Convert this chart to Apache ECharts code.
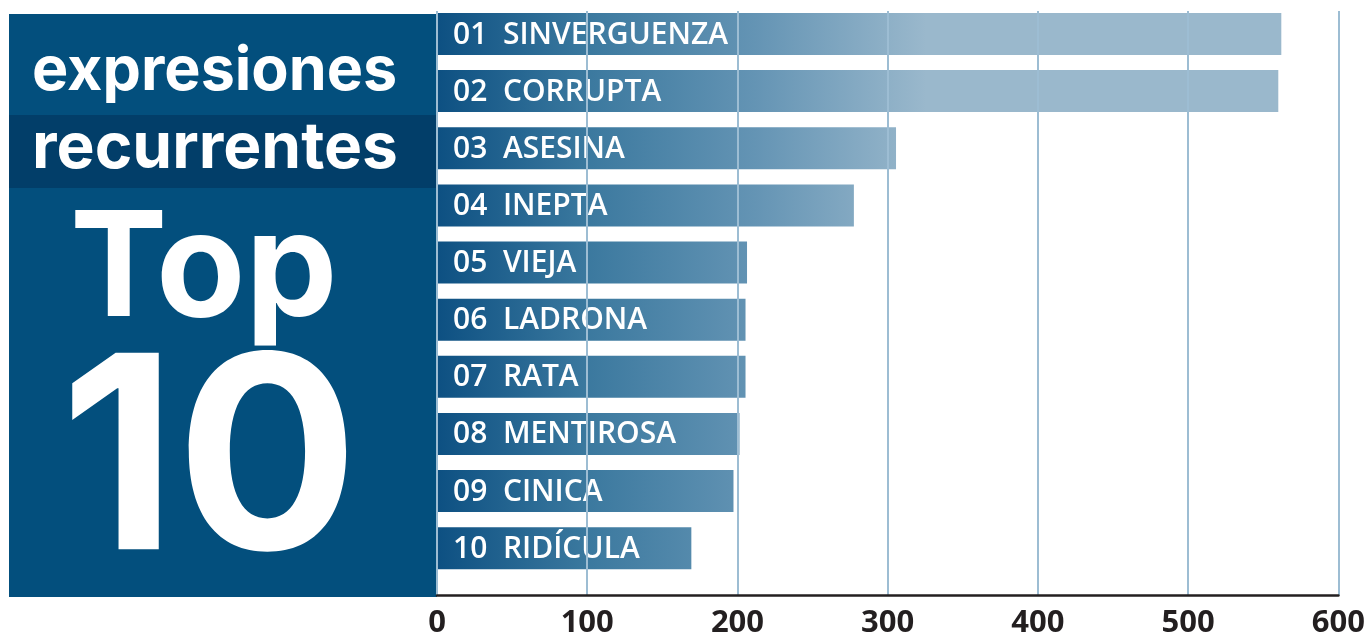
<!DOCTYPE html>
<html>
<head>
<meta charset="utf-8">
<script src="https://cdn.jsdelivr.net/npm/echarts@6/dist/echarts.min.js"></script>
<style>
  html, body { margin: 0; padding: 0; background: #fff; }
  #top10 { width: 1368px; height: 639px; }
</style>
</head>
<body>
<div id="top10"></div>
<script>
// datos
const ranks = ["01", "02", "03", "04", "05", "06", "07", "08", "09", "10"];
const words = ["SINVERGUENZA", "CORRUPTA", "ASESINA", "INEPTA", "VIEJA", "LADRONA", "RATA", "MENTIROSA", "CINICA", "RIDÍCULA"];
const counts = [561, 559, 305, 277, 206, 205, 205, 201, 197, 169];
const axisMax = 600;
const axisStep = 100;

const labelFont = "'Open Sans', 'Noto Sans', sans-serif";
const titleFont = "Inter, 'Noto Sans', sans-serif";

let myChart = echarts.init(document.getElementById("top10"));

let option = {
  animation: false,
  grid: [
    // barras
    { left: 437, right: 28, top: 5.4, bottom: 62.2 },
    // eje y lineas
    { left: 437, right: 28, top: 11, bottom: 43.5 },
  ],
  xAxis: [
    {
      gridIndex: 0,
      type: "value",
      min: 0,
      max: axisMax,
      interval: axisStep,
      show: false,
    },
    {
      gridIndex: 1,
      type: "value",
      min: 0,
      max: axisMax,
      interval: axisStep,
      z: 3,
      axisLine: { show: true, lineStyle: { color: "#231f20", width: 2.5 } },
      axisTick: { show: false },
      axisLabel: {
        color: "#231f20",
        fontFamily: labelFont,
        fontWeight: "bold",
        fontSize: 31,
        margin: 12,
      },
      splitLine: { show: true, lineStyle: { color: "#9dbdd3", width: 2 } },
    },
  ],
  yAxis: [
    {
      gridIndex: 0,
      type: "category",
      inverse: true,
      data: words,
      show: false,
    },
    {
      gridIndex: 1,
      type: "value",
      show: false,
    },
  ],
  series: [
    {
      type: "bar",
      xAxisIndex: 0,
      yAxisIndex: 0,
      data: counts,
      barWidth: 42,
      itemStyle: { color: "#3a789e" },
      label: {
        show: true,
        position: "insideLeft",
        distance: 16,
        offset: [0, 1],
        color: "#fff",
        fontFamily: labelFont,
        fontWeight: 600,
        fontSize: 30,
        formatter: (p) => ranks[p.dataIndex] + "  " + words[p.dataIndex],
      },
    },
  ],
  graphic: [
    { type: "rect", z: -1, shape: { x: 9, y: 14, width: 428, height: 583 }, style: { fill: "#034f7d" } },
    { type: "rect", z: -1, shape: { x: 9, y: 115, width: 428, height: 73 }, style: { fill: "#023e69" } },
    {
      type: "text", left: 32, top: 41,
      style: { text: "expresiones", fill: "#fff", font: "bold 61px " + titleFont },
    },
    {
      type: "text", left: 32, top: 117,
      style: { text: "recurrentes", fill: "#fff", font: "bold 64px " + titleFont },
    },
    {
      type: "text", left: 70, top: 199,
      style: { text: "Top", fill: "#fff", font: "bold 146px " + titleFont },
    },
    {
      type: "text", left: 60, top: 333,
      style: { text: "10", fill: "#fff", font: "bold 270px " + titleFont },
    },
  ],
};

myChart.setOption(option);

// degradado global a lo largo del eje x
let x0 = myChart.convertToPixel({ xAxisIndex: 0 }, 0);
let x1 = myChart.convertToPixel({ xAxisIndex: 0 }, 325);
myChart.setOption({
  series: [
    {
      itemStyle: {
        color: new echarts.graphic.LinearGradient(
          x0, 0, x1, 0,
          [
            { offset: 0, color: "#0d5082" },
            { offset: 0.3, color: "#3a789e" },
            { offset: 0.65, color: "#6494b4" },
            { offset: 1, color: "#9ab8cc" },
          ],
          true
        ),
      },
    },
  ],
});
</script>
</body>
</html>
